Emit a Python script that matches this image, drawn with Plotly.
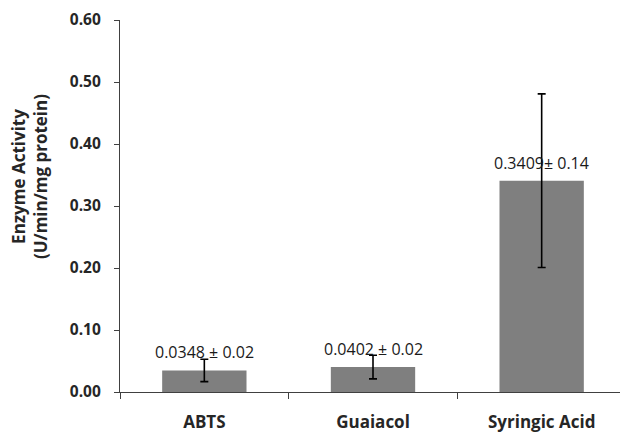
import plotly.graph_objects as go

categories = ["ABTS", "Guaiacol", "Syringic Acid"]
activity = [0.0348, 0.0402, 0.3409]
errors = [0.018, 0.019, 0.14]
labels = ["0.0348 ± 0.02", "0.0402 ± 0.02", "0.3409± 0.14"]
y_ticks = [0.0, 0.1, 0.2, 0.3, 0.4, 0.5, 0.6]

FONT = "Open Sans"

fig = go.Figure()
fig.add_trace(go.Bar(
    x=categories, y=activity, width=0.5,
    marker=dict(color="#7f7f7f", line=dict(width=0)),
    error_y=dict(type="data", array=errors, color="#000000", thickness=1.6, width=4),
))

for c, v, t in zip(categories, activity, labels):
    fig.add_annotation(x=c, y=v, text=t, showarrow=False, yanchor="middle", yshift=18,
                       font=dict(family=FONT, size=16, color="#1a1a1a"))

fig.add_annotation(xref="paper", yref="paper", x=(30 - 120) / 506, y=(392 - 177) / 372,
                   text="<b>Enzyme Activity<br>(U/min/mg protein)</b>", textangle=-90,
                   showarrow=False, xanchor="center", yanchor="middle",
                   font=dict(family=FONT, size=17, color="#262626"))

# page body has an 8px margin, so the figure is sized/offset to compensate
fig.update_layout(
    width=620, height=425,
    margin=dict(l=112, r=2, t=12, b=41),
    paper_bgcolor="white", plot_bgcolor="white",
    showlegend=False,
    xaxis=dict(tickson="boundaries", ticks="outside", ticklen=6, tickcolor="#404040",
               showline=True, linecolor="#404040", linewidth=1.2, showgrid=False,
               tickfont=dict(family=FONT, size=17, color="#262626", weight="bold"),
               ticklabelstandoff=14, automargin=False),
    yaxis=dict(range=[0, 0.6], tickvals=y_ticks, tickformat=".2f", ticks="outside", ticklen=5,
               tickcolor="#404040", showline=True, linecolor="#404040", linewidth=1.2,
               showgrid=False, zeroline=False,
               tickfont=dict(family=FONT, size=15.5, color="#262626", weight="bold"),
               ticklabelstandoff=10, automargin=False),
)

fig.write_html("out.html")
